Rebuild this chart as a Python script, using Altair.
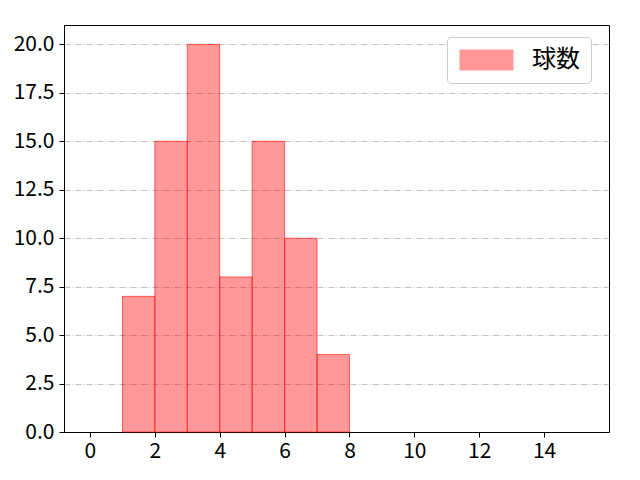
import altair as alt
import pandas as pd

bin_start = [1, 2, 3, 4, 5, 6, 7]
bin_end = [2, 3, 4, 5, 6, 7, 8]
counts = [7, 15, 20, 8, 15, 10, 4]
series = ["球数"] * len(counts)

df = pd.DataFrame({"start": bin_start, "end": bin_end, "count": counts, "series": series})

FONT = "Noto Sans CJK JP"

bars = alt.Chart(df).mark_bar(
    fillOpacity=0.4, stroke="#ff0000", strokeOpacity=0.55, strokeWidth=1
).encode(
    x=alt.X("start:Q", scale=alt.Scale(domain=[-0.8, 16], nice=False, zero=False, padding=0),
            axis=alt.Axis(values=[0, 2, 4, 6, 8, 10, 12, 14], title=None, grid=False,
                          format="d", labelPadding=3)),
    x2="end:Q",
    y=alt.Y("count:Q", scale=alt.Scale(domain=[0, 21], nice=False, padding=0),
            axis=alt.Axis(values=[0, 2.5, 5, 7.5, 10, 12.5, 15, 17.5, 20], format=".1f",
                          title=None, grid=True, gridColor="#b0b0b0", gridDash=[6, 2, 1, 2],
                          gridWidth=0.8, labelPadding=5)),
    y2=alt.datum(0),
    color=alt.Color("series:N", scale=alt.Scale(range=["#ff0000"]),
                    legend=alt.Legend(title=None, orient="none", legendX=383, legendY=12,
                                      symbolType="M-1,-1L4.3,-1L4.3,1L-1,1Z",
                                      symbolSize=400, symbolOpacity=0.4,
                                      symbolStrokeColor="#ff0000", symbolStrokeWidth=1,
                                      labelFontSize=24, labelFont=FONT, labelColor="black",
                                      padding=11, strokeColor="#cccccc", cornerRadius=4,
                                      fillColor="white", labelOffset=50, rowPadding=0)),
)

chart = bars.properties(
    width=545, height=407,
    autosize=alt.AutoSizeParams(type="none"),
    padding={"left": 56, "top": 17, "right": 20, "bottom": 40},
).configure_view(
    stroke="black", strokeWidth=1
).configure_axis(
    labelFont=FONT, labelFontSize=21, labelColor="black", domainColor="black",
    tickColor="black", tickSize=5, domainWidth=1
)

chart.save("out.html", embed_options={"renderer": "svg", "actions": False})
